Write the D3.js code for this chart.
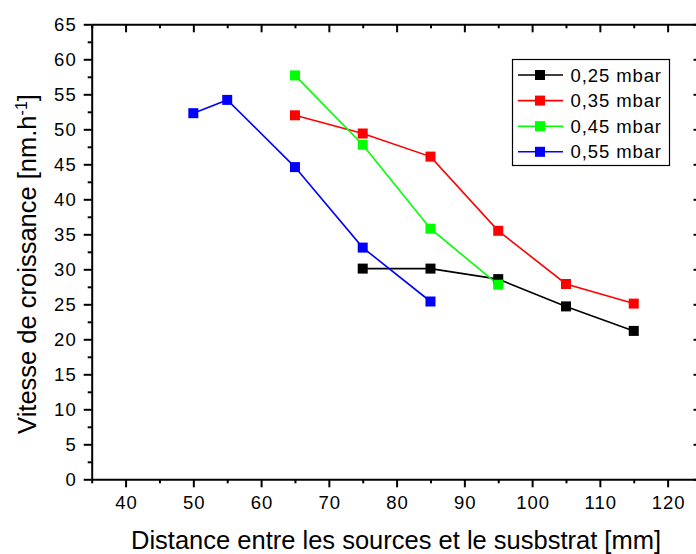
<!DOCTYPE html>
<html><head><meta charset="utf-8">
<script src="https://cdn.jsdelivr.net/npm/d3@7"></script>
<style>body{margin:0;background:#fff}svg{display:block;font-family:"Liberation Sans",Arial,sans-serif}</style>
</head><body><svg id="c" width="696" height="554"></svg>
<script>
const seriesNames = ["0,25 mbar","0,35 mbar","0,45 mbar","0,55 mbar"];
const seriesColors = ["#000000","#ff0000","#00ff00","#0000ff"];
const x025 = [75,85,95,105,115];
const y025 = [30.1,30.1,28.6,24.7,21.2];
const x035 = [65,75,85,95,105,115];
const y035 = [52.0,49.4,46.1,35.5,27.9,25.1];
const x045 = [65,75,85,95];
const y045 = [57.7,47.8,35.8,27.8];
const x055 = [50,55,65,75,85];
const y055 = [52.3,54.2,44.6,33.1,25.4];
const xTicks = [40,50,60,70,80,90,100,110,120];
const yTicks = [0,5,10,15,20,25,30,35,40,45,50,55,60,65];

const series = [[x025,y025],[x035,y035],[x045,y045],[x055,y055]].map((d,i)=>({
  name: seriesNames[i], color: seriesColors[i], pts: d[0].map((xv,j)=>({x:xv,y:d[1][j]}))
}));

const FONT = "Liberation Sans, Arial, sans-serif";
const svg = d3.select("#c");
const L=91.7, R=701.5, T=24.3, B=479.3;
const x = d3.scaleLinear().domain([35,125]).range([L,R]);
const y = d3.scaleLinear().domain([0,65]).range([B,T]);

const minorX = d3.range(35,126,5).filter(v=>v%10!==0);
const minorY = d3.range(0,66,2.5).filter(v=>v%5!==0);

function styleAxis(g){g.selectAll("path").attr("stroke","#000").attr("stroke-width",2);
  g.selectAll(".tick line").attr("stroke","#000").attr("stroke-width",2);
  g.selectAll("text").attr("font-size","18.5px").attr("letter-spacing","1px").attr("fill","#000").attr("font-family",FONT);}

// bottom
const gb = svg.append("g").attr("transform",`translate(0,${B})`)
  .call(d3.axisBottom(x).tickValues(xTicks).tickSize(8).tickPadding(9).tickSizeOuter(0));
styleAxis(gb);
gb.selectAll("text").attr("dx","0.5px");
svg.append("g").attr("transform",`translate(0,${B})`)
  .call(d3.axisBottom(x).tickValues(minorX).tickSize(4).tickFormat("").tickSizeOuter(0))
  .call(g=>{g.select("path").remove();g.selectAll("line").attr("stroke","#000").attr("stroke-width",2);});
// top
const gt = svg.append("g").attr("transform",`translate(0,${T})`)
  .call(d3.axisBottom(x).tickValues(xTicks).tickSize(8).tickFormat("").tickSizeOuter(0));
styleAxis(gt);
svg.append("g").attr("transform",`translate(0,${T})`)
  .call(d3.axisBottom(x).tickValues(minorX).tickSize(4).tickFormat("").tickSizeOuter(0))
  .call(g=>{g.select("path").remove();g.selectAll("line").attr("stroke","#000").attr("stroke-width",2);});
// left
const gl = svg.append("g").attr("transform",`translate(${L},0)`)
  .call(d3.axisLeft(y).tickValues(yTicks).tickSize(8).tickPadding(7).tickSizeOuter(0));
styleAxis(gl);
svg.append("g").attr("transform",`translate(${L},0)`)
  .call(d3.axisLeft(y).tickValues(minorY).tickSize(4).tickFormat("").tickSizeOuter(0))
  .call(g=>{g.select("path").remove();g.selectAll("line").attr("stroke","#000").attr("stroke-width",2);});
// right
const gr = svg.append("g").attr("transform",`translate(${R},0)`)
  .call(d3.axisRight(y).tickValues(yTicks).tickSize(-8).tickFormat("").tickSizeOuter(0));
styleAxis(gr);
svg.append("g").attr("transform",`translate(${R},0)`)
  .call(d3.axisRight(y).tickValues(minorY).tickSize(-4).tickFormat("").tickSizeOuter(0))
  .call(g=>{g.select("path").remove();g.selectAll("line").attr("stroke","#000").attr("stroke-width",2);});

// lines
const line = d3.line().x(d=>x(d.x)).y(d=>y(d.y));
series.forEach(s=>{
  svg.append("path").datum(s.pts).attr("d",line).attr("fill","none").attr("stroke",s.color).attr("stroke-width",1.6);
});
series.forEach(s=>{
  svg.selectAll(null).data(s.pts).enter().append("rect")
    .attr("x",d=>x(d.x)-5).attr("y",d=>y(d.y)-5).attr("width",10).attr("height",10).attr("fill",s.color);
});

// legend
const lg = svg.append("g");
lg.append("rect").attr("x",512.5).attr("y",59.5).attr("width",157).attr("height",106).attr("fill","#fff").attr("stroke","#000").attr("stroke-width",1.2);
series.forEach((s,i)=>{
  const yy = 75 + i*25.6;
  lg.append("line").attr("x1",518).attr("x2",563).attr("y1",yy).attr("y2",yy).attr("stroke",s.color).attr("stroke-width",1.6);
  lg.append("rect").attr("x",535).attr("y",yy-5).attr("width",10).attr("height",10).attr("fill",s.color);
  lg.append("text").attr("x",570.5).attr("y",yy+6.5).attr("font-size","18.5px").attr("letter-spacing","0.9px").attr("font-family",FONT).text(s.name);
});

// titles
svg.append("text").attr("x",396).attr("y",549).attr("text-anchor","middle").attr("font-size","25.5px").attr("font-family",FONT).text("Distance entre les sources et le susbstrat [mm]");
const yt = svg.append("text").attr("transform","translate(36,264) rotate(-90)").attr("text-anchor","middle").attr("font-size","25.5px").attr("font-family",FONT);
yt.append("tspan").text("Vitesse de croissance [nm.h");
yt.append("tspan").attr("dy",-9).attr("font-size","16px").text("-1");
yt.append("tspan").attr("dy",9).text("]");
</script></body></html>
